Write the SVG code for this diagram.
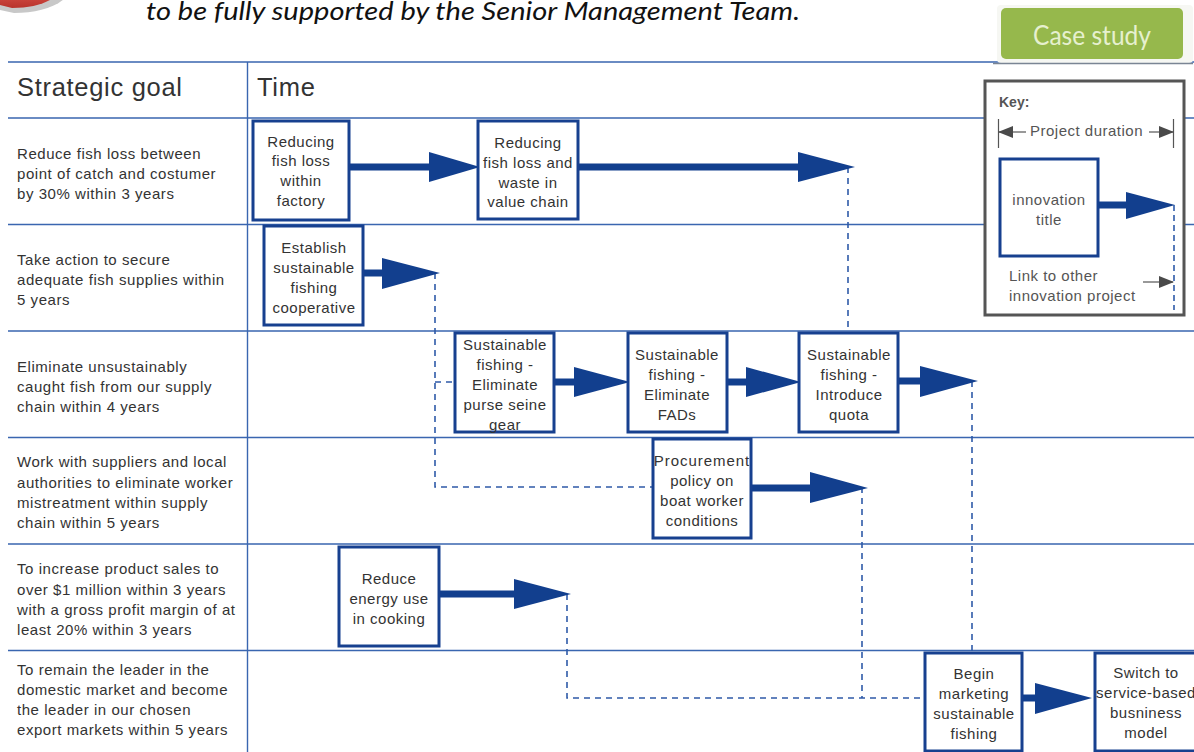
<svg xmlns="http://www.w3.org/2000/svg" width="1194" height="752" viewBox="0 0 1194 752">
<defs>
<marker id="tip" markerUnits="userSpaceOnUse" markerWidth="15" markerHeight="12" refX="14" refY="6" orient="auto"><path d="M0,0 L15,6 L0,12 Z" fill="#4a4a4a"/></marker>
<linearGradient id="red" x1="0" y1="0" x2="0" y2="1"><stop offset="0" stop-color="#d9534a"/><stop offset="1" stop-color="#b9332c"/></linearGradient>
</defs>
<style>
text{font-family:"Liberation Sans",Arial,sans-serif;fill:#333}
.g{font-size:15px;letter-spacing:.55px}
.n{font-size:15px;letter-spacing:.5px;text-anchor:middle}
.h{font-size:25.5px;letter-spacing:.7px}
.kt{font-size:15px;letter-spacing:.5px;fill:#555}
.grid{stroke:#3a66b0;stroke-width:1.4;fill:none}
.box{fill:#fff;stroke:#17408f;stroke-width:3}
.shaft{stroke:#123f8e;stroke-width:7;fill:none}
.head{fill:#123f8e}
.dash{stroke:#2f5aa8;stroke-width:1.6;stroke-dasharray:6 5;fill:none}
.ka{stroke:#555;stroke-width:1.2;fill:none}
</style>
<g id="badge">
<path d="M0,-10 L72,-10 C62,6 40,13 14,13 L0,10 Z" fill="#c8c8c8"/>
<path d="M0,-10 L62,-10 C52,2 36,8 12,8 L0,5 Z" fill="url(#red)"/>
</g>
<text x="146" y="20" font-style="italic" style="font-family:Lato,sans-serif;font-size:25px;fill:#111" textLength="654" lengthAdjust="spacingAndGlyphs">to be fully supported by the Senior Management Team.</text>
<g id="grid">
<path class="grid" d="M8,62 H1194 M8,118 H1194 M8,224.500 H1194 M8,331 H1194 M8,437.500 H1194 M8,544 H1194 M8,650.500 H1194 M247.500,62 V752"/>
</g>
<g id="headers">
<text class="h" x="17" y="96">Strategic goal</text>
<text class="h" x="257" y="96">Time</text>
</g>
<g id="goals">
<g id="goal-1"><text class="g" x="17" y="159">Reduce fish loss between</text><text class="g" x="17" y="179">point of catch and costumer</text><text class="g" x="17" y="199">by 30% within 3 years</text></g>
<g id="goal-2"><text class="g" x="17" y="265">Take action to secure</text><text class="g" x="17" y="285">adequate fish supplies within</text><text class="g" x="17" y="305">5 years</text></g>
<g id="goal-3"><text class="g" x="17" y="372">Eliminate unsustainably</text><text class="g" x="17" y="392">caught fish from our supply</text><text class="g" x="17" y="412">chain within 4 years</text></g>
<g id="goal-4"><text class="g" x="17" y="467">Work with suppliers and local</text><text class="g" x="17" y="488">authorities to eliminate worker</text><text class="g" x="17" y="508">mistreatment within supply</text><text class="g" x="17" y="528">chain within 5 years</text></g>
<g id="goal-5"><text class="g" x="17" y="574">To increase product sales to</text><text class="g" x="17" y="595">over $1 million within 3 years</text><text class="g" x="17" y="615">with a gross profit margin of at</text><text class="g" x="17" y="635">least 20% within 3 years</text></g>
<g id="goal-6"><text class="g" x="17" y="675">To remain the leader in the</text><text class="g" x="17" y="695">domestic market and become</text><text class="g" x="17" y="715">the leader in our chosen</text><text class="g" x="17" y="735">export markets within 5 years</text></g>
</g>
<g id="connectors">
<path class="dash" d="M848,167 V333"/>
<path class="dash" d="M435,273 V487 H652"/>
<path class="dash" d="M435,382 H454"/>
<path class="dash" d="M972,381 V652"/>
<path class="dash" d="M862,487 V698"/>
<path class="dash" d="M567,594 V698 H925"/>
<path class="shaft" d="M350,167 H430"/><path class="head" d="M429,152 L480,167 L429,182 Z"/>
<path class="shaft" d="M578,167 H800"/><path class="head" d="M798,152 L855,167 L798,182 Z"/>
<path class="shaft" d="M363,273 H384"/><path class="head" d="M382,258 L440,273 L382,289 Z"/>
<path class="shaft" d="M554,382 H576"/><path class="head" d="M574,367 L630,382 L574,397 Z"/>
<path class="shaft" d="M728,382 H748"/><path class="head" d="M746,367 L801,382 L746,397 Z"/>
<path class="shaft" d="M898,381 H922"/><path class="head" d="M920,366 L978,381 L920,397 Z"/>
<path class="shaft" d="M751,488 H812"/><path class="head" d="M810,472 L868,488 L810,503 Z"/>
<path class="shaft" d="M439,594 H516"/><path class="head" d="M514,579 L571,594 L514,609 Z"/>
<path class="shaft" d="M1022,698 H1037"/><path class="head" d="M1035,683 L1092,698 L1035,714 Z"/>
</g>
<g id="node-reducing-fish-loss"><rect class="box" x="253" y="121" width="96" height="99"/><text class="n" x="301" y="147">Reducing</text><text class="n" x="301" y="166">fish loss</text><text class="n" x="301" y="186">within</text><text class="n" x="301" y="206">factory</text></g>
<g id="node-value-chain"><rect class="box" x="478" y="121" width="100" height="98"/><text class="n" x="528" y="148">Reducing</text><text class="n" x="528" y="168">fish loss and</text><text class="n" x="528" y="188">waste in</text><text class="n" x="528" y="207">value chain</text></g>
<g id="node-cooperative"><rect class="box" x="264" y="226" width="99" height="99"/><text class="n" x="314" y="253">Establish</text><text class="n" x="314" y="273">sustainable</text><text class="n" x="314" y="293">fishing</text><text class="n" x="314" y="313">cooperative</text></g>
<g id="node-purse-seine"><rect class="box" x="455" y="333" width="99" height="99"/><text class="n" x="505" y="350">Sustainable</text><text class="n" x="505" y="370">fishing -</text><text class="n" x="505" y="390">Eliminate</text><text class="n" x="505" y="410">purse seine</text><text class="n" x="505" y="430">gear</text></g>
<g id="node-fads"><rect class="box" x="628" y="333" width="99" height="99"/><text class="n" x="677" y="360">Sustainable</text><text class="n" x="677" y="380">fishing -</text><text class="n" x="677" y="400">Eliminate</text><text class="n" x="677" y="420">FADs</text></g>
<g id="node-quota"><rect class="box" x="799" y="333" width="99" height="99"/><text class="n" x="849" y="360">Sustainable</text><text class="n" x="849" y="380">fishing -</text><text class="n" x="849" y="400">Introduce</text><text class="n" x="849" y="420">quota</text></g>
<g id="node-procurement"><rect class="box" x="653" y="439" width="98" height="99"/><text class="n" x="702" y="466" style="letter-spacing:.95px">Procurement</text><text class="n" x="702" y="486">policy on</text><text class="n" x="702" y="506">boat worker</text><text class="n" x="702" y="526">conditions</text></g>
<g id="node-energy"><rect class="box" x="339" y="547" width="100" height="99"/><text class="n" x="389" y="584">Reduce</text><text class="n" x="389" y="604">energy use</text><text class="n" x="389" y="624">in cooking</text></g>
<g id="node-begin-marketing"><rect class="box" x="925" y="653" width="97" height="98"/><text class="n" x="974" y="679">Begin</text><text class="n" x="974" y="699">marketing</text><text class="n" x="974" y="719">sustainable</text><text class="n" x="974" y="739">fishing</text></g>
<g id="node-service"><rect class="box" x="1095" y="653" width="103" height="98"/><text class="n" x="1146" y="678">Switch to</text><text class="n" x="1146" y="698">service-based</text><text class="n" x="1146" y="718">busniness</text><text class="n" x="1146" y="738">model</text></g>
<g id="key">
<rect x="985" y="81" width="199" height="234" fill="#fff" stroke="#555" stroke-width="3"/>
<text x="999" y="107" style="font-size:14px;font-weight:bold;fill:#555">Key:</text>
<path class="ka" d="M998.500,119 V148 M1173.500,119 V148"/>
<path class="ka" d="M1026,132 H999" marker-end="url(#tip)"/>
<path class="ka" d="M1149,132 H1173" marker-end="url(#tip)"/>
<text class="kt" x="1030" y="136">Project duration</text>
<rect class="box" x="1000" y="159" width="98" height="97"/>
<text class="n" x="1049" y="205" style="fill:#555">innovation</text><text class="n" x="1049" y="225" style="fill:#555">title</text>
<path class="shaft" d="M1098,205 H1130"/><path class="head" d="M1126,192 L1175,205 L1126,219 Z"/>
<path class="dash" d="M1174,205 V310" style="stroke-dasharray:6 4"/>
<text class="kt" x="1009" y="281">Link to other</text>
<text class="kt" x="1009" y="301">innovation project</text>
<path class="ka" d="M1143,282 H1173" marker-end="url(#tip)"/>
</g>
<g id="case-study">
<rect x="997" y="5" width="196" height="58" rx="4" fill="#f6f7f3"/>
<path d="M993,63.500 H1193" stroke="#7a8594" stroke-width="1.500"/>
<rect x="1001" y="8" width="182" height="51" rx="5" fill="#96b84c"/>
<text x="1033" y="45" textLength="118" lengthAdjust="spacingAndGlyphs" style="font-family:Lato,sans-serif;font-size:26px;fill:#e6f0cf">Case study</text>
</g>
</svg>
